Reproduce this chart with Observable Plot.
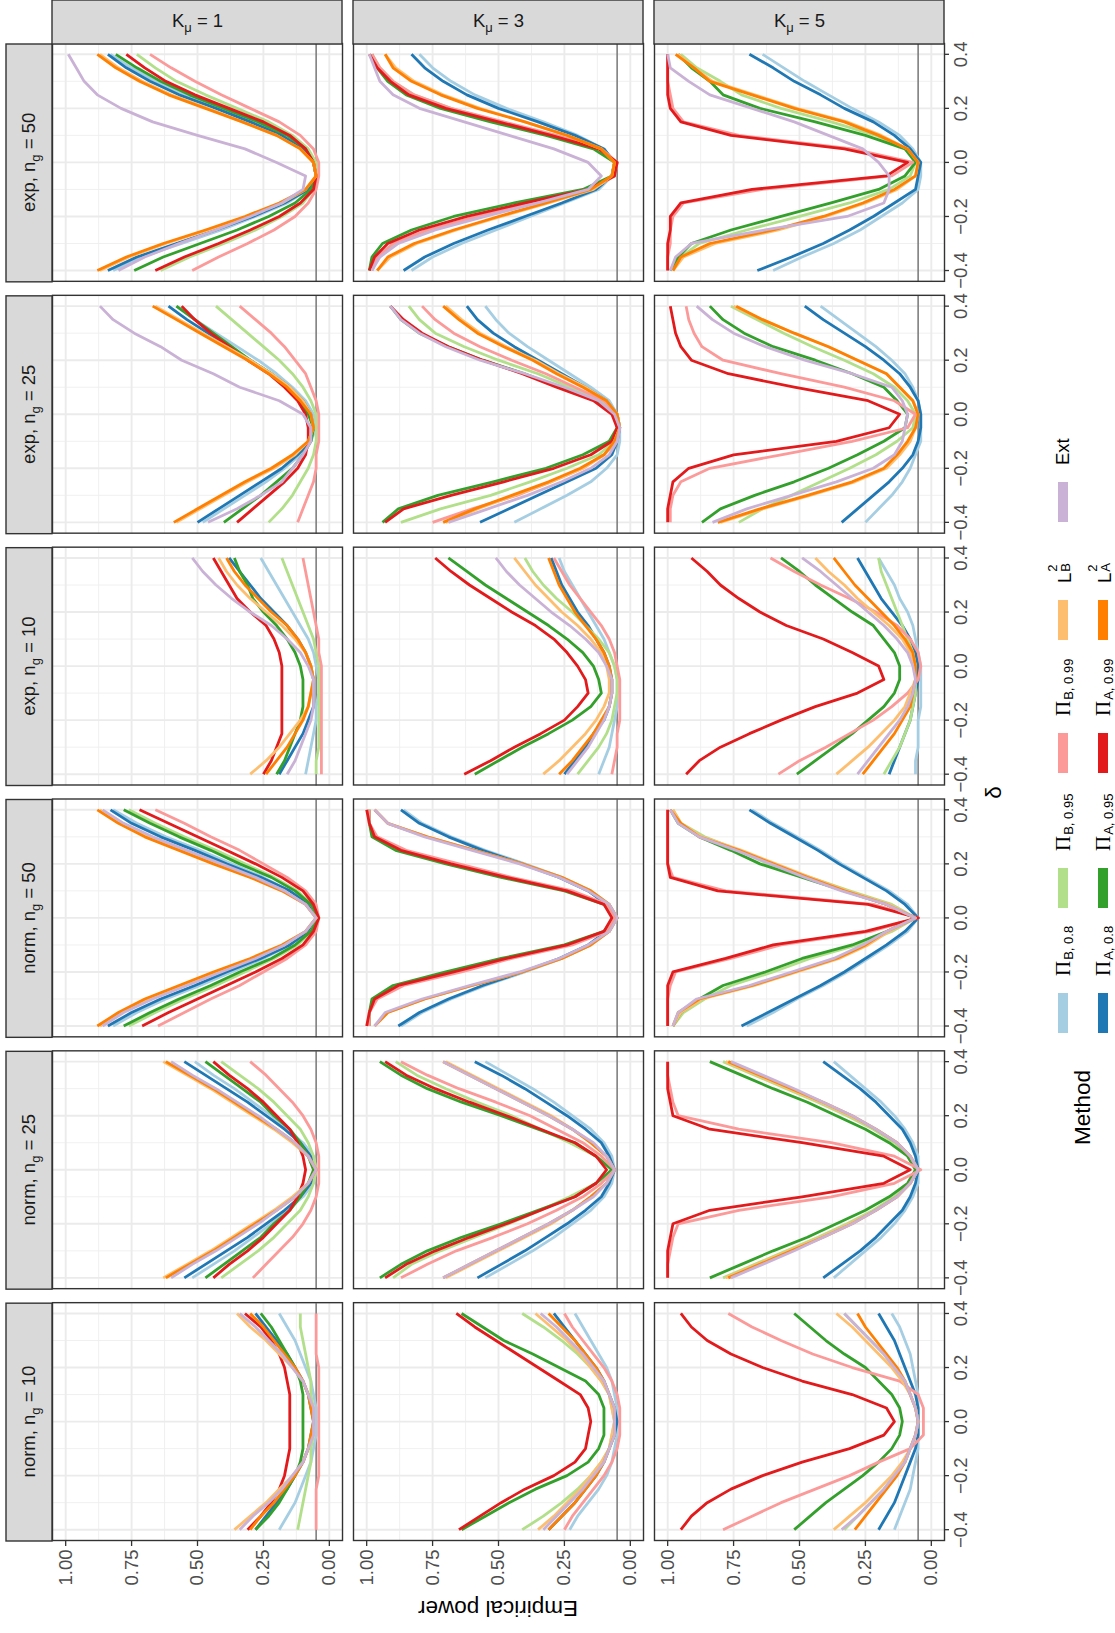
<!DOCTYPE html>
<html>
<head>
<meta charset="utf-8">
<script src="https://cdn.jsdelivr.net/npm/d3@7"></script>
<script src="https://cdn.jsdelivr.net/npm/@observablehq/plot@0.6"></script>
<style>
html, body { margin: 0; padding: 0; background: #fff; overflow: hidden; }
#page { position: absolute; left: 0; top: 0; width: 1633px; height: 1115px; background: #fff;
  transform-origin: 0 0; transform: translate(0px, 1633px) rotate(-90deg);
  font-family: "Liberation Sans", Arial, Helvetica, sans-serif; }
#page svg { position: absolute; left: 0; top: 0; }
.title { position: absolute; font-size: 22.5px; color: #000; white-space: nowrap; line-height: 1; }
.key { position: absolute; width: 40px; height: 10px; }
.lab { position: absolute; font-size: 18.5px; color: #000; white-space: nowrap; line-height: 1; transform: translateY(-50%); }
.pi { font-family: "Liberation Serif", "DejaVu Serif", serif; font-size: 21px; }
.lab sub { font-size: 13px; position: relative; top: 0.2em; vertical-align: baseline; margin-left: 1px; }
.ss { position: relative; display: inline-block; width: 12px; height: 1em; }
.ss span { position: absolute; left: 1px; font-size: 13px; }
</style>
</head>
<body>
<div id="page"></div>
<script>
// ---------------- data ----------------
const delta = [-0.4, -0.35, -0.3, -0.25, -0.2, -0.15, -0.1, -0.05, 0, 0.05, 0.1, 0.15, 0.2, 0.25, 0.3, 0.35, 0.4];
const methods = ["PiB08", "PiA08", "PiB95", "PiA95", "PiB99", "PiA99", "LB", "LA", "Ext"];
const methodColors = ["#A6CEE3", "#1F78B4", "#B2DF8A", "#33A02C", "#FB9A99", "#E31A1C", "#FDBF6F", "#FF7F00", "#CAB2D6"];
const facetKeys = ["norm10", "norm25", "norm50", "exp10", "exp25", "exp50"];
const facetLabels = ["norm, n_{g} = 10", "norm, n_{g} = 25", "norm, n_{g} = 50", "exp, n_{g} = 10", "exp, n_{g} = 25", "exp, n_{g} = 50"];
const kKeys = ["K1", "K3", "K5"];
const kLabels = ["K_{μ} = 1", "K_{μ} = 3", "K_{μ} = 5"];
const deltaMajor = [-0.4, -0.2, 0, 0.2, 0.4];
const deltaMinor = [-0.3, -0.1, 0.1, 0.3];
const powerMajor = [0, 0.25, 0.5, 0.75, 1];
const powerMinor = [0.125, 0.375, 0.625, 0.875];
const nominalLevel = [0.05];

// empirical power (%) at each delta, per panel and method
const norm10_K1 = {
  PiB08: [19,16,13,11,9,7,6,5,5,5,6,7,9,11,13,16,19],
  PiA08: [28,24,20,16,13,10,8,7,6,7,8,10,13,16,20,24,28],
  PiB95: [12,11,10,9,8,7,7,6,6,6,7,7,8,9,10,11,11],
  PiA95: [28,23,19,16,13,11,10,10,10,10,10,11,13,16,19,22,26],
  PiB99: [5,5,5,5,4,4,4,4,4,4,4,4,4,5,5,5,5],
  PiA99: [31,26,22,19,17,16,15,15,15,15,15,16,17,19,22,26,32],
  LB:    [36,30,24,19,14,10,8,6,6,6,8,10,14,19,24,30,35],
  LA:    [30,26,21,17,13,10,8,7,6,7,8,10,13,17,21,25,30],
  Ext:   [34,29,23,18,14,10,8,6,6,6,8,10,14,18,23,28,34]
};
const norm10_K3 = {
  PiB08: [23,20,16,12,9,7,6,5,5,5,6,7,9,12,15,18,21],
  PiA08: [31,26,21,17,13,10,8,6,5,6,8,10,13,17,21,25,29],
  PiB95: [41,33,26,20,15,11,8,7,6,7,8,11,15,20,26,33,41],
  PiA95: [64,55,46,36,24,16,12,10,10,10,12,17,27,37,48,56,64],
  PiB99: [25,22,18,14,10,7,5,4,4,4,5,7,10,14,18,22,25],
  PiA99: [65,57,49,40,29,21,17,16,15,16,19,27,35,43,51,59,66],
  LB:    [35,29,24,19,15,11,8,7,6,7,8,11,15,19,24,30,36],
  LA:    [31,26,21,17,13,10,8,6,6,6,8,10,13,17,21,26,31],
  Ext:   [33,28,23,18,14,10,8,6,6,6,8,10,14,18,23,28,34]
};
const norm10_K5 = {
  PiB08: [14,12,10,8,7,6,5,5,5,5,5,6,7,8,10,12,15],
  PiA08: [20,17,14,12,10,8,6,5,5,5,6,8,10,12,14,17,20],
  PiB95: [33,28,23,18,14,10,8,6,5,6,8,10,14,18,23,28,33],
  PiA95: [52,46,40,33,26,20,15,12,11,12,15,20,25,33,40,46,52],
  PiB99: [79,68,57,44,31,20,8,3,3,3,5,12,30,45,57,68,77],
  PiA99: [95,91,85,76,64,49,31,18,14,17,30,49,64,76,85,91,95],
  LB:    [37,31,25,20,15,11,8,6,5,6,8,11,15,20,25,30,36],
  LA:    [29,25,21,17,13,10,8,6,5,6,8,10,13,17,21,25,28],
  Ext:   [34,28,23,18,14,10,8,6,5,6,8,10,14,18,23,28,33]
};
const norm25_K1 = {
  PiB08: [52,44,36,29,22,16,10,6,5,6,10,16,22,29,36,44,51],
  PiA08: [55,47,39,31,24,17,11,7,5,7,11,17,24,31,39,47,55],
  PiB95: [41,34,27,21,16,11,8,6,5,6,8,11,16,21,27,34,41],
  PiA95: [47,40,33,26,21,15,11,8,6,8,11,15,21,26,33,40,47],
  PiB99: [29,24,19,14,10,7,5,4,4,4,5,7,10,14,19,24,30],
  PiA99: [44,38,31,25,20,15,12,10,9,10,12,15,20,25,31,38,44],
  LB:    [63,54,45,37,29,21,14,8,5,8,14,21,29,37,45,54,63],
  LA:    [62,53,44,36,28,20,13,8,5,8,13,20,28,36,44,53,62],
  Ext:   [60,52,43,35,27,20,13,8,5,8,13,20,27,35,43,52,60]
};
const norm25_K3 = {
  PiB08: [55,46,37,29,22,15,10,7,6,7,10,15,22,29,37,46,55],
  PiA08: [58,49,40,32,24,17,11,8,6,8,11,17,24,32,40,49,59],
  PiB95: [90,83,72,59,46,34,23,13,6,13,23,34,45,58,70,81,89],
  PiA95: [95,87,77,64,49,35,21,13,7,13,21,35,49,64,77,87,95],
  PiB99: [87,77,66,52,39,28,18,11,6,11,18,28,38,51,65,77,87],
  PiA99: [93,85,74,61,47,34,21,13,9,13,21,34,47,61,74,85,93],
  LB:    [70,60,50,40,30,22,15,9,6,9,15,22,30,40,50,60,70],
  LA:    [71,61,51,41,31,22,15,9,6,9,15,22,31,41,51,61,71],
  Ext:   [71,61,51,41,31,22,14,9,6,9,14,22,31,41,51,61,71]
};
const norm25_K5 = {
  PiB08: [37,31,25,19,14,10,7,5,5,5,7,10,14,19,25,31,37],
  PiA08: [41,34,27,21,16,11,8,6,5,6,8,11,16,21,27,34,41],
  PiB95: [79,67,55,43,32,22,14,8,5,8,14,22,32,43,55,67,79],
  PiA95: [84,72,60,47,36,25,16,9,6,9,16,25,36,47,60,72,84],
  PiB99: [100,100,99,98,96,73,38,14,4,14,38,73,96,98,99,100,100],
  PiA99: [100,100,100,99,98,84,49,18,8,18,49,84,98,99,100,100,100],
  LB:    [78,66,54,42,31,21,13,8,5,8,13,21,31,42,54,66,78],
  LA:    [77,65,53,41,30,21,13,8,5,8,13,21,30,41,53,65,77],
  Ext:   [76,64,52,41,30,21,13,8,5,8,13,21,30,41,52,64,76]
};
const norm50_K1 = {
  PiB08: [82,73,62,49,37,25,15,8,5,8,15,25,37,49,62,73,82],
  PiA08: [84,75,64,51,39,26,15,8,5,8,15,26,39,51,64,75,83],
  PiB95: [76,66,55,43,32,21,12,7,4,7,12,21,32,43,55,66,76],
  PiA95: [78,68,57,45,34,22,13,7,4,7,13,22,34,45,57,68,78],
  PiB99: [65,55,45,34,25,16,9,5,4,5,9,16,25,34,45,55,66],
  PiA99: [71,61,50,39,28,18,10,6,4,6,10,18,28,39,50,61,72],
  LB:    [87,79,69,56,43,29,17,9,5,9,17,29,43,56,69,79,87],
  LA:    [88,80,70,57,44,30,18,9,5,9,18,30,44,57,70,80,88],
  Ext:   [86,78,67,54,41,28,17,9,5,9,17,28,41,54,67,78,86]
};
const norm50_K3 = {
  PiB08: [87,79,68,55,40,26,15,8,5,8,15,26,40,55,68,79,86],
  PiA08: [88,80,69,56,41,27,16,9,5,9,16,27,41,56,69,80,87],
  PiB95: [99,99,97,87,66,46,23,9,6,9,23,46,67,86,97,99,99],
  PiA95: [99,99,98,90,70,49,25,10,6,10,25,49,70,89,98,99,99],
  PiB99: [99,99,96,86,64,45,22,9,6,9,22,45,65,85,96,99,99],
  PiA99: [100,99,97,88,67,47,24,10,7,10,24,47,68,87,97,99,100],
  LB:    [97,92,78,60,41,26,15,8,5,8,15,26,41,59,77,92,97],
  LA:    [97,92,78,60,41,26,15,8,5,8,15,26,41,59,77,92,97],
  Ext:   [97,93,79,61,42,27,16,8,5,8,16,27,42,60,78,92,97]
};
const norm50_K5 = {
  PiB08: [70,60,51,41,32,24,16,9,5,9,16,25,34,42,51,60,68],
  PiA08: [72,62,52,42,33,25,17,10,5,10,17,26,35,43,52,61,69],
  PiB95: [98,94,86,76,60,46,28,15,6,15,31,46,62,73,86,95,98],
  PiA95: [98,95,88,79,63,49,30,17,6,17,33,49,65,76,88,96,99],
  PiB99: [100,100,100,99,97,76,57,23,5,22,78,98,100,100,100,100,100],
  PiA99: [100,100,100,100,98,78,60,25,5,24,81,99,100,100,100,100,100],
  LB:    [98,95,87,67,51,35,24,16,6,16,32,46,59,72,87,95,98],
  LA:    [98,96,88,68,52,36,25,17,6,17,33,47,60,73,88,95,99],
  Ext:   [98,96,89,69,53,37,26,17,6,17,34,48,61,74,88,96,99]
};
const exp10_K1 = {
  PiB08: [9,8,7,6,5,5,4,4,5,6,8,11,14,17,20,23,26],
  PiA08: [19,16,13,10,8,6,6,6,7,9,12,16,21,26,30,34,38],
  PiB95: [5,5,4,4,4,4,4,4,4,5,6,8,10,12,14,16,18],
  PiA95: [20,17,15,13,11,10,10,10,11,13,16,20,25,29,31,34,36],
  PiB99: [3,3,3,3,3,3,3,3,3,4,4,5,6,7,8,9,10],
  PiA99: [25,22,20,18,18,18,18,18,18,19,21,24,30,35,38,41,44],
  LB:    [30,24,19,15,11,8,7,6,7,9,13,18,24,30,35,39,42],
  LA:    [24,20,16,13,10,8,7,6,7,9,12,16,22,27,32,36,39],
  Ext:   [16,13,11,9,7,6,6,6,8,11,16,22,30,37,43,48,52]
};
const exp10_K3 = {
  PiB08: [12,10,8,7,6,5,5,5,6,8,10,13,16,19,22,25,27],
  PiA08: [25,21,17,14,10,8,7,7,8,10,13,16,20,23,26,28,30],
  PiB95: [20,16,12,9,7,6,5,5,6,8,12,17,22,28,33,37,40],
  PiA95: [59,50,41,31,22,15,11,12,14,18,24,31,39,47,55,62,69],
  PiB99: [7,6,5,5,4,4,4,4,5,6,8,11,15,19,23,26,29],
  PiA99: [63,53,44,34,25,20,16,17,20,24,29,36,45,53,61,68,74],
  LB:    [33,27,22,17,13,10,8,8,9,11,15,20,26,31,36,40,44],
  LA:    [27,22,18,14,11,8,7,7,8,10,13,17,21,24,27,29,31],
  Ext:   [24,20,16,13,10,8,7,7,9,12,17,23,30,36,42,47,51]
};
const exp10_K5 = {
  PiB08: [6,6,5,5,5,4,4,4,4,5,6,7,9,12,14,17,20],
  PiA08: [16,14,12,10,8,7,6,5,5,6,8,11,15,19,22,25,28],
  PiB95: [18,15,12,10,8,7,6,6,6,7,9,11,13,15,17,19,20],
  PiA95: [51,44,37,30,24,18,14,12,12,14,18,22,30,37,44,50,57],
  PiB99: [58,50,40,31,22,15,9,5,4,5,8,13,21,31,42,52,61],
  PiA99: [93,88,80,69,57,44,28,18,20,30,41,55,65,73,80,85,91],
  LB:    [36,30,24,19,14,10,8,6,6,8,11,16,22,28,33,39,44],
  LA:    [26,22,18,14,11,8,7,6,6,7,10,14,19,24,29,33,37],
  Ext:   [28,24,20,16,12,9,7,6,7,9,13,18,24,30,36,42,49]
};
const exp25_K1 = {
  PiB08: [48,40,32,24,17,11,7,5,6,9,14,20,27,35,43,51,58],
  PiA08: [50,42,34,26,18,12,7,6,7,10,15,22,30,38,46,54,61],
  PiB95: [23,18,14,11,8,6,5,5,5,7,10,14,19,25,31,37,43],
  PiA95: [40,33,26,20,14,10,7,6,8,11,16,22,30,37,44,51,58],
  PiB99: [12,10,8,6,5,5,4,4,4,5,7,9,13,17,22,28,34],
  PiA99: [35,29,23,17,12,9,8,8,9,12,17,23,31,38,45,51,56],
  LB:    [58,49,40,31,21,13,8,6,7,10,15,22,30,39,48,57,66],
  LA:    [59,50,41,32,22,14,8,6,7,11,16,23,31,40,49,58,67],
  Ext:   [46,35,26,18,14,10,7,7,10,19,34,44,56,64,74,82,87]
};
const exp25_K3 = {
  PiB08: [44,34,24,15,9,5,4,4,5,8,15,23,31,39,46,51,55],
  PiA08: [57,46,35,24,13,7,5,4,5,9,17,26,35,44,52,58,62],
  PiB95: [87,72,53,38,24,12,6,4,5,11,23,35,50,63,74,80,84],
  PiA95: [94,88,73,52,32,18,8,5,6,13,27,40,56,69,80,87,91],
  PiB99: [75,60,43,30,18,10,5,4,5,10,21,32,45,57,67,74,79],
  PiA99: [93,86,68,48,29,15,7,5,7,14,28,41,56,69,79,86,91],
  LB:    [70,58,44,30,18,10,6,4,5,9,17,27,36,47,57,64,70],
  LA:    [71,59,45,31,19,10,6,4,5,9,18,28,37,48,58,65,71],
  Ext:   [69,54,39,26,15,8,5,4,6,12,25,40,57,70,80,87,91]
};
const exp25_K5 = {
  PiB08: [25,20,15,11,8,6,4,4,4,5,7,10,15,21,28,35,42],
  PiA08: [34,28,22,16,11,7,5,4,4,5,8,12,18,25,33,41,48],
  PiB95: [73,64,53,42,31,21,13,7,6,9,14,22,33,45,56,66,76],
  PiA95: [87,80,67,52,39,28,18,10,9,13,18,30,44,60,71,79,84],
  PiB99: [99,99,98,95,84,57,30,9,6,14,33,57,79,87,90,92,93],
  PiA99: [100,100,99,98,92,75,36,16,12,24,52,77,91,95,97,98,99],
  LB:    [80,64,46,29,17,12,8,6,5,7,12,17,28,39,52,64,75],
  LA:    [81,65,47,30,18,13,9,6,5,7,12,17,28,39,52,64,74],
  Ext:   [83,70,53,36,22,14,11,10,9,11,15,30,48,63,75,83,89]
};
const exp50_K1 = {
  PiB08: [82,71,56,41,28,16,8,5,6,10,18,29,42,55,66,75,83],
  PiA08: [84,73,58,43,29,17,8,5,6,10,18,30,43,57,68,77,84],
  PiB95: [64,53,40,28,18,10,6,5,5,8,14,23,35,47,58,66,73],
  PiA95: [74,63,49,35,23,13,7,5,6,9,16,27,40,53,64,73,81],
  PiB99: [52,42,31,21,13,8,5,4,4,6,11,19,30,41,51,60,68],
  PiA99: [66,55,42,30,19,11,6,5,6,9,15,25,38,51,62,70,77],
  LB:    [87,76,62,46,31,18,9,5,6,11,20,33,46,60,71,80,87],
  LA:    [88,77,63,47,32,19,9,5,6,11,20,33,47,61,72,81,88],
  Ext:   [80,70,57,43,30,18,10,9,20,32,50,67,79,88,93,96,99]
};
const exp50_K3 = {
  PiB08: [83,75,64,51,38,25,12,7,6,10,20,33,47,59,68,75,80],
  PiA08: [86,78,67,54,40,26,13,7,6,10,21,35,50,62,71,78,83],
  PiB95: [98,96,89,75,57,36,15,6,5,12,29,49,68,82,90,95,98],
  PiA95: [99,98,94,83,67,44,18,7,6,14,32,53,72,85,92,96,98],
  PiB99: [98,96,90,77,58,37,15,6,5,11,28,48,68,82,90,95,98],
  PiA99: [99,97,92,80,62,40,16,6,5,12,30,50,70,84,91,96,99],
  LB:    [96,91,81,66,49,31,14,7,6,11,24,40,57,71,82,89,93],
  LA:    [96,92,82,67,50,32,15,7,6,11,24,40,58,72,83,90,93],
  Ext:   [98,95,88,74,55,35,16,11,16,29,46,63,80,90,95,97,99]
};
const exp50_K5 = {
  PiB08: [60,49,37,27,19,11,5,4,4,7,12,20,30,39,48,56,64],
  PiA08: [66,53,41,31,22,14,6,5,4,8,14,22,33,42,52,60,69],
  PiB95: [98,95,88,70,50,31,16,8,6,9,21,38,57,72,80,89,95],
  PiA95: [99,96,91,76,57,38,20,10,6,10,25,44,65,79,84,91,96],
  PiB99: [100,100,99,99,98,94,64,15,7,30,73,94,98,99,100,100,100],
  PiA99: [100,100,100,99,99,95,68,17,9,33,76,95,99,100,100,100,100],
  LB:    [98,94,82,58,40,25,13,6,5,9,19,32,51,67,83,90,96],
  LA:    [98,95,84,60,41,26,14,6,5,9,20,33,52,68,84,90,97],
  Ext:   [99,97,91,63,32,18,16,16,20,26,39,52,68,84,92,99,100]
};

const panels = {
  norm10: {K1: norm10_K1, K3: norm10_K3, K5: norm10_K5},
  norm25: {K1: norm25_K1, K3: norm25_K3, K5: norm25_K5},
  norm50: {K1: norm50_K1, K3: norm50_K3, K5: norm50_K5},
  exp10:  {K1: exp10_K1,  K3: exp10_K3,  K5: exp10_K5},
  exp25:  {K1: exp25_K1,  K3: exp25_K3,  K5: exp25_K5},
  exp50:  {K1: exp50_K1,  K3: exp50_K3,  K5: exp50_K5}
};

// ---------------- table ----------------
const rows = [];
for (const f of facetKeys) for (const k of kKeys) for (const m of methods) {
  panels[f][k][m].forEach((p, i) => rows.push({facet: f, K: k, method: m, delta: delta[i], power: p / 100}));
}

// ---------------- layout ----------------
const W = 1633, H = 980, mL = 92, mR = 44, mT = 52, mB = 36;
const padX = 0.0556, padY = 0.0365;
const stepX = (W - mL - mR) / (facetKeys.length - padX), bwX = stepX * (1 - padX);
const stepY = (H - mT - mB) / (kKeys.length - padY), bwY = stepY * (1 - padY);
const xDom = [-0.44, 0.44], yDom = [-0.05, 1.05];
const xPer = bwX / (xDom[1] - xDom[0]), yPer = bwY / (yDom[1] - yDom[0]);
const stripTop = 46, stripRight = 44;

const topStrips = facetKeys.map((f, i) => ({facet: f, K: "K1", label: facetLabels[i]}));
const rightStrips = kKeys.map((k, i) => ({facet: "exp50", K: k, label: kLabels[i]}));

const font = "'Liberation Sans', Arial, Helvetica, sans-serif";
const svg = Plot.plot({
  width: W, height: H,
  marginLeft: mL, marginRight: mR, marginTop: mT, marginBottom: mB,
  style: {fontFamily: font, fontSize: "18.5px", background: "transparent", overflow: "visible"},
  x: {domain: xDom},
  y: {domain: yDom},
  fx: {domain: facetKeys, paddingInner: padX, paddingOuter: 0, round: false, axis: null},
  fy: {domain: kKeys, paddingInner: padY, paddingOuter: 0, round: false, axis: null},
  color: {domain: methods, range: methodColors},
  marks: [
    Plot.ruleX(deltaMinor, {stroke: "#EEEEEE", strokeWidth: 0.9}),
    Plot.ruleY(powerMinor, {stroke: "#EEEEEE", strokeWidth: 0.9}),
    Plot.ruleX(deltaMajor, {stroke: "#EBEBEB", strokeWidth: 1.9}),
    Plot.ruleY(powerMajor, {stroke: "#EBEBEB", strokeWidth: 1.9}),
    Plot.ruleY(nominalLevel, {stroke: "#7F7F7F", strokeWidth: 1.6}),
    Plot.line(rows, {x: "delta", y: "power", z: "method", stroke: "method", fx: "facet", fy: "K",
      strokeWidth: 2.8, strokeLinejoin: "round", strokeLinecap: "butt"}),
    Plot.frame({stroke: "#333333", strokeWidth: 1.4}),
    Plot.rect(topStrips, {fx: "facet", fy: "K", x1: xDom[0], x2: xDom[1],
      y1: yDom[1], y2: yDom[1] + stripTop / yPer, fill: "#D9D9D9", stroke: "#333333", strokeWidth: 1.4}),
    Plot.text(topStrips, {fx: "facet", fy: "K", x: 0, y: yDom[1] + (stripTop / 2) / yPer, text: "label",
      fontSize: 18.5, fill: "#1A1A1A"}),
    Plot.rect(rightStrips, {fx: "facet", fy: "K", x1: xDom[1], x2: xDom[1] + stripRight / xPer,
      y1: yDom[0], y2: yDom[1], fill: "#D9D9D9", stroke: "#333333", strokeWidth: 1.4}),
    Plot.text(rightStrips, {fx: "facet", fy: "K", x: xDom[1] + (stripRight / 2) / xPer, y: 0.5, rotate: 90,
      text: "label", fontSize: 18.5, fill: "#1A1A1A"}),
    Plot.axisX({anchor: "bottom", ticks: deltaMajor, tickFormat: d3.format(".1f"), tickSize: 5, tickPadding: 4,
      label: null, fontSize: 18.5, stroke: "#333333", fill: "#4D4D4D", strokeWidth: 1.3}),
    Plot.axisY({anchor: "left", ticks: powerMajor, tickFormat: d3.format(".2f"), tickSize: 5, tickPadding: 4,
      label: null, fontSize: 18.5, stroke: "#333333", fill: "#4D4D4D", strokeWidth: 1.3})
  ]
});

// subscripts in strip labels
const NS = "http://www.w3.org/2000/svg";
svg.querySelectorAll("text").forEach(t => {
  const s = t.textContent;
  const m = s.match(/^(.*?)_\{(.+?)\}(.*)$/);
  if (!m) return;
  while (t.firstChild) t.removeChild(t.firstChild);
  const a = document.createElementNS(NS, "tspan"); a.textContent = m[1];
  const b = document.createElementNS(NS, "tspan"); b.textContent = m[2];
  b.setAttribute("font-size", "13"); b.setAttribute("dy", "5");
  const c = document.createElementNS(NS, "tspan"); c.textContent = m[3].replace(/^ /, "\u00A0");
  c.setAttribute("dy", "-5");
  t.append(a, b, c);
});

const page = document.getElementById("page");
page.appendChild(svg);

// axis titles
const yTitle = document.createElement("div");
yTitle.className = "title";
yTitle.textContent = "Empirical power";
yTitle.style.left = "25px"; yTitle.style.top = (mT + (H - mT - mB) / 2) + "px";
yTitle.style.transform = "translate(-50%, -50%) rotate(-90deg)";
page.appendChild(yTitle);

const xTitle = document.createElement("div");
xTitle.className = "title";
xTitle.textContent = "δ";
xTitle.style.left = (mL + (W - mL - mR) / 2) + "px"; xTitle.style.top = "994px";
xTitle.style.transform = "translate(-50%, -50%)";
page.appendChild(xTitle);

// legend
const legendTitle = document.createElement("div");
legendTitle.className = "title";
legendTitle.textContent = "Method";
legendTitle.style.left = "488px"; legendTitle.style.top = "1083px";
legendTitle.style.transform = "translateY(-50%)";
page.appendChild(legendTitle);

const legendCols = [["PiB08", "PiA08"], ["PiB95", "PiA95"], ["PiB99", "PiA99"], ["LB", "LA"], ["Ext"]];
const legendColX = [600, 725, 860, 993, 1111];
const legendRowY = [1063, 1103];
const methodLabelHTML = {
  PiB08: '<span class="pi">Π</span><sub>B, 0.8</sub>',
  PiA08: '<span class="pi">Π</span><sub>A, 0.8</sub>',
  PiB95: '<span class="pi">Π</span><sub>B, 0.95</sub>',
  PiA95: '<span class="pi">Π</span><sub>A, 0.95</sub>',
  PiB99: '<span class="pi">Π</span><sub>B, 0.99</sub>',
  PiA99: '<span class="pi">Π</span><sub>A, 0.99</sub>',
  LB: 'L<span class="ss"><span style="top:-0.45em">2</span><span style="top:0.55em">B</span></span>',
  LA: 'L<span class="ss"><span style="top:-0.45em">2</span><span style="top:0.55em">A</span></span>',
  Ext: 'Ext'
};
legendCols.forEach((col, ci) => col.forEach((m, ri) => {
  const key = document.createElement("div");
  key.className = "key";
  key.style.background = methodColors[methods.indexOf(m)];
  key.style.left = legendColX[ci] + "px";
  key.style.top = (legendRowY[ri] - 5) + "px";
  page.appendChild(key);
  const lab = document.createElement("div");
  lab.className = "lab";
  lab.innerHTML = methodLabelHTML[m];
  lab.style.left = (legendColX[ci] + 40 + 17) + "px";
  lab.style.top = legendRowY[ri] + "px";
  page.appendChild(lab);
}));
</script>
</body>
</html>
